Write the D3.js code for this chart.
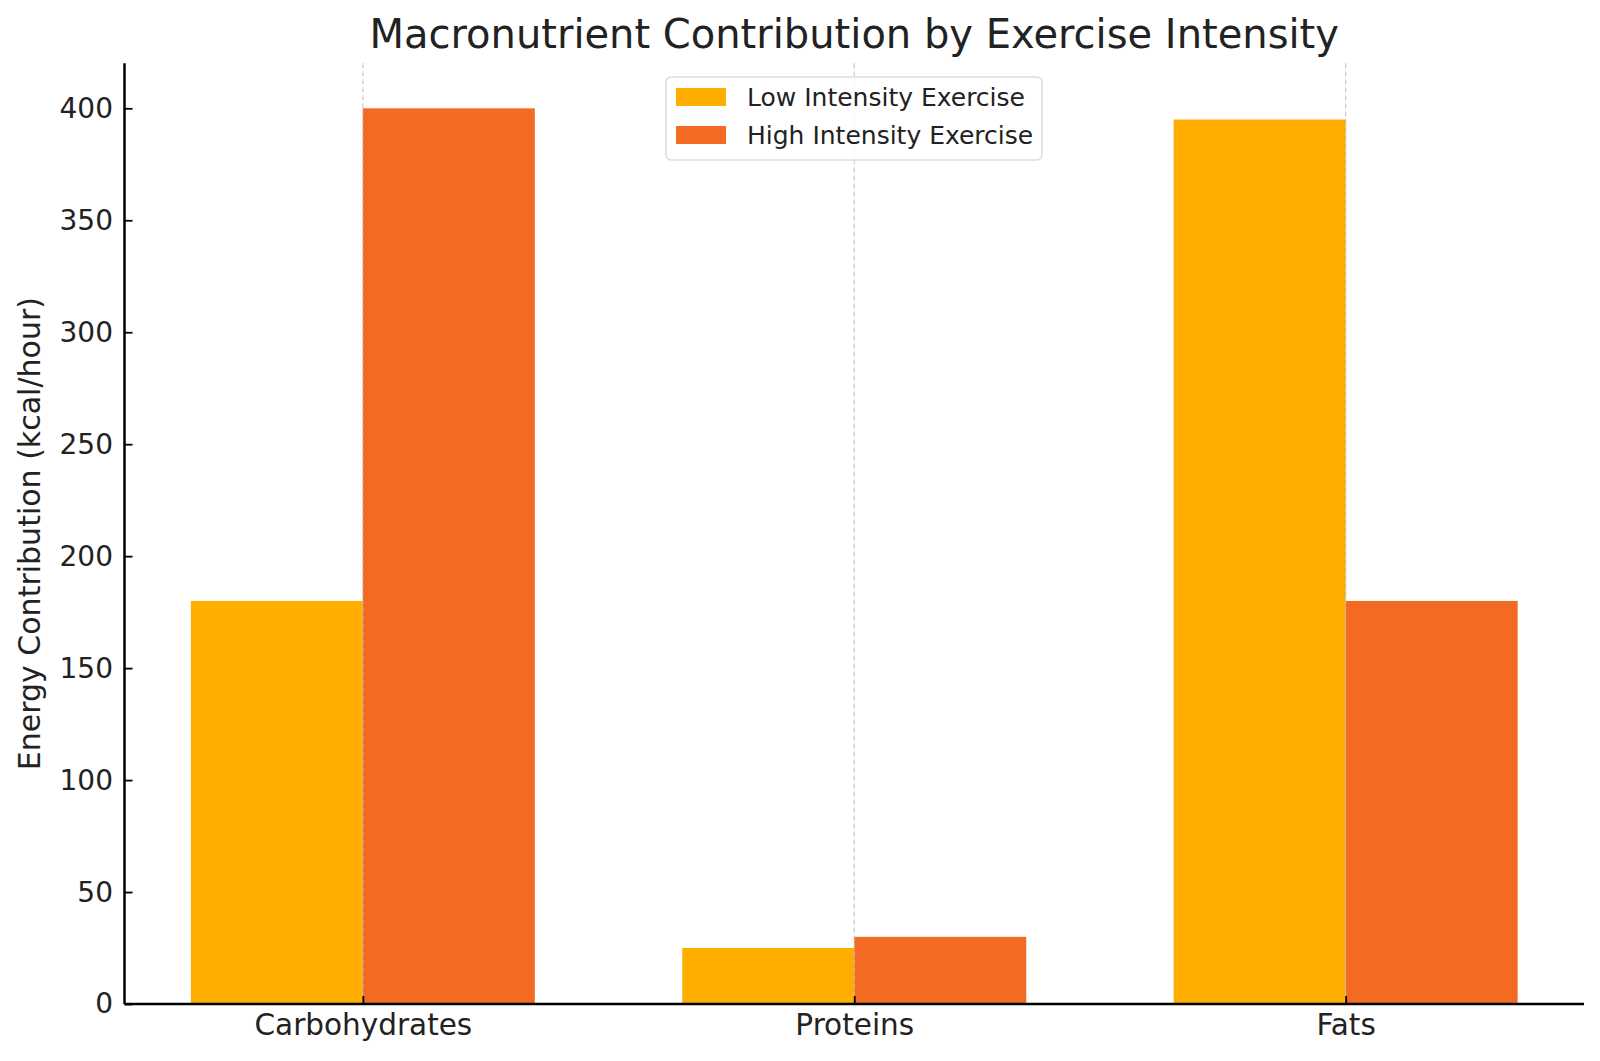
<!DOCTYPE html>
<html>
<head>
<meta charset="utf-8">
<script src="https://cdn.jsdelivr.net/npm/d3@7"></script>
<style>
  body { margin: 0; background: #fff; }
  svg text { font-family: "DejaVu Sans", sans-serif; fill: #222; }
</style>
</head>
<body>
<svg width="1600" height="1061"></svg>
<script>
// data
const categories = ["Carbohydrates", "Proteins", "Fats"];
const seriesNames = ["Low Intensity Exercise", "High Intensity Exercise"];
const lowValues = [180, 25, 395];
const highValues = [400, 30, 180];
const yTicks = [0, 50, 100, 150, 200, 250, 300, 350, 400];
const colors = ["#FFAE00", "#F36A22"];

const svg = d3.select("svg");
const plotLeft = 124.5, plotRight = 1584, plotTop = 63.3, plotBottom = 1004;
const barW = 0.35;

// x as continuous index scale (like matplotlib positions)
const x = d3.scaleLinear().domain([-0.485, 2.485]).range([plotLeft, plotRight]);
const y = d3.scaleLinear().domain([0, 420.1]).range([plotBottom, plotTop]);

// bars
const series = [lowValues, highValues];
series.forEach((vals, s) => {
  svg.append("g").selectAll("rect")
    .data(vals)
    .enter().append("rect")
    .attr("x", (d, i) => s === 0 ? x(i - barW) : x(i))
    .attr("width", x(barW) - x(0))
    .attr("y", d => y(d))
    .attr("height", d => plotBottom - y(d))
    .attr("fill", colors[s]);
});

// grid lines (vertical, dashed, over the bars)
svg.append("g").selectAll("line")
  .data(categories)
  .enter().append("line")
  .attr("x1", (d, i) => x(i)).attr("x2", (d, i) => x(i))
  .attr("y1", plotTop).attr("y2", plotBottom)
  .attr("stroke", "#bbb").attr("stroke-width", 1.2).attr("stroke-opacity", 0.8)
  .attr("stroke-dasharray", "5,3");

// axes (ticks point inward)
const yAxis = d3.axisLeft(y).tickValues(yTicks).tickSize(-8).tickPadding(11.5);
const gy = svg.append("g").attr("transform", `translate(${plotLeft},0)`).call(yAxis);
gy.select(".domain").attr("d", `M0,${plotTop}V${plotBottom}`).attr("stroke", "#000").attr("stroke-width", 2.5);
gy.selectAll(".tick line").attr("stroke", "#000").attr("stroke-width", 1.8);
gy.selectAll(".tick text").style("font-size", "28px").attr("fill", "#222");

const xAxis = d3.axisBottom(x).tickValues([0, 1, 2]).tickFormat(i => categories[i]).tickSize(-8).tickPadding(10);
const gx = svg.append("g").attr("transform", `translate(0,${plotBottom})`).call(xAxis);
gx.select(".domain").attr("d", `M${plotLeft},0H${plotRight}`).attr("stroke", "#000").attr("stroke-width", 2.5);
gx.selectAll(".tick line").attr("stroke", "#000").attr("stroke-width", 1.8);
gx.selectAll(".tick text").style("font-size", "29.5px").attr("fill", "#222");

// title
svg.append("text")
  .attr("x", (plotLeft + plotRight) / 2).attr("y", 48)
  .attr("text-anchor", "middle")
  .style("font-size", "40px")
  .text("Macronutrient Contribution by Exercise Intensity");

// y label
svg.append("text")
  .attr("transform", `translate(40,${(plotTop + plotBottom) / 2}) rotate(-90)`)
  .attr("text-anchor", "middle")
  .style("font-size", "30px")
  .text("Energy Contribution (kcal/hour)");

// legend
const lg = svg.append("g").attr("transform", "translate(666,77)");
lg.append("rect")
  .attr("width", 376).attr("height", 83).attr("rx", 5)
  .attr("fill", "#fff").attr("fill-opacity", 0.85)
  .attr("stroke", "#ddd").attr("stroke-width", 1.5);
seriesNames.forEach((name, i) => {
  lg.append("rect")
    .attr("x", 10).attr("y", 11 + i * 38)
    .attr("width", 50).attr("height", 18)
    .attr("fill", colors[i]);
  lg.append("text")
    .attr("x", 81).attr("y", 29 + i * 38)
    .style("font-size", "25px")
    .text(name);
});
</script>
</body>
</html>
